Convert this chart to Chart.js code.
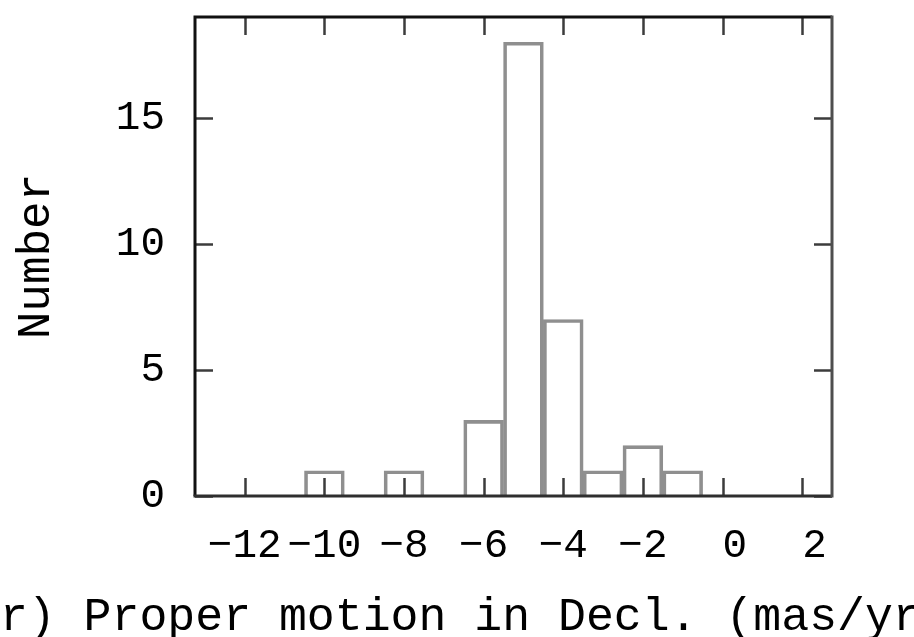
<!DOCTYPE html>
<html>
<head>
<meta charset="utf-8">
<script src="https://cdn.jsdelivr.net/npm/chart.js@4.4.1/dist/chart.umd.min.js"></script>
<style>
  html, body { margin: 0; padding: 0; background: #fff; overflow: hidden; }
  canvas { display: block; }
</style>
</head>
<body>
<canvas id="hist" width="914" height="637"></canvas>
<script>
// Histogram of proper motion in declination (bins 1 mas/yr wide, centred on integers)
const binCenters = [-10, -8, -6, -5, -4, -3, -2, -1];
const counts     = [1, 1, 3, 18, 7, 1, 2, 1];

const xTickValues = [-12, -10, -8, -6, -4, -2, 0, 2];
const yTickValues = [0, 5, 10, 15];

const xTitle = '(r) Proper motion in Decl. (mas/yr)';
const yTitle = 'Number';

const MONO = "'Liberation Mono', 'Courier New', monospace";

// negative numbers get a real minus sign, others a leading blank of the same width
function xLabel(v) { return v < 0 ? '\u2212' + Math.abs(v) : ' ' + v; }

// Box frame, inward tick marks on all four sides, and the x-axis caption
const framePlugin = {
  id: 'frame',
  afterDatasetsDraw(chart) {
    const { ctx, chartArea: a, scales: { x, y } } = chart;
    const L = 18;
    ctx.save();
    ctx.lineCap = 'butt';
    ctx.strokeStyle = '#3c3c3c';
    ctx.lineWidth = 2.5;
    ctx.beginPath();
    xTickValues.forEach(v => {
      const px = Math.round(x.getPixelForValue(v)) + 0.5;
      ctx.moveTo(px, a.bottom); ctx.lineTo(px, a.bottom - L);
      ctx.moveTo(px, a.top);    ctx.lineTo(px, a.top + L);
    });
    yTickValues.forEach(v => {
      const py = Math.round(y.getPixelForValue(v)) + 0.5;
      ctx.moveTo(a.left, py);  ctx.lineTo(a.left + L, py);
      ctx.moveTo(a.right, py); ctx.lineTo(a.right - L, py);
    });
    ctx.stroke();

    ctx.lineWidth = 3;
    // top and left edges
    ctx.strokeStyle = '#111';
    ctx.beginPath();
    ctx.moveTo(a.left, a.bottom); ctx.lineTo(a.left, a.top); ctx.lineTo(a.right, a.top);
    ctx.stroke();
    // bottom edge
    ctx.strokeStyle = '#2e2e2e';
    ctx.beginPath();
    ctx.moveTo(a.left - 1.5, a.bottom); ctx.lineTo(a.right, a.bottom);
    ctx.stroke();
    // right edge
    ctx.strokeStyle = '#4e4e4e';
    ctx.beginPath();
    ctx.moveTo(a.right, a.top - 1.5); ctx.lineTo(a.right, a.bottom + 1.5);
    ctx.stroke();
    ctx.restore();
  },
  afterDraw(chart) {
    const { ctx } = chart;
    ctx.save();
    ctx.fillStyle = '#000';
    ctx.font = '46.5px ' + MONO;
    ctx.textAlign = 'left';
    ctx.textBaseline = 'alphabetic';
    ctx.fillText(xTitle, -28, 630);
    ctx.restore();
  }
};

new Chart(document.getElementById('hist'), {
  type: 'bar',
  data: {
    datasets: [{
      data: binCenters.map((c, i) => ({ x: c, y: counts[i] })),
      backgroundColor: 'rgba(255,255,255,0)',
      borderColor: '#8f8f8f',
      borderWidth: 3,
      barPercentage: 1.0,
      categoryPercentage: 1.0
    }]
  },
  options: {
    responsive: false,
    animation: false,
    events: [],
    layout: { padding: { top: 17, right: 82, left: 0, bottom: 0 } },
    plugins: { legend: { display: false }, tooltip: { enabled: false } },
    scales: {
      x: {
        type: 'linear',
        min: -13.25,
        max: 2.75,
        offset: false,
        grid: { display: false, offset: false },
        border: { display: false },
        afterBuildTicks(scale) { scale.ticks = xTickValues.map(v => ({ value: v })); },
        afterFit(scale) { scale.height = 141; scale.paddingLeft = 0; scale.paddingRight = 0; },
        ticks: {
          autoSkip: false,
          maxRotation: 0,
          minRotation: 0,
          padding: 18,
          color: '#000',
          font: { family: MONO, size: 41 },
          callback: v => xLabel(v)
        }
      },
      y: {
        type: 'linear',
        min: 0,
        max: 19,
        grid: { display: false },
        border: { display: false },
        afterBuildTicks(scale) { scale.ticks = yTickValues.map(v => ({ value: v })); },
        afterFit(scale) { scale.width = 195; scale.paddingTop = 0; scale.paddingBottom = 0; },
        ticks: {
          padding: 22,
          color: '#000',
          font: { family: MONO, size: 41 },
          callback: v => String(v)
        },
        title: {
          display: true,
          text: yTitle,
          color: '#000',
          font: { family: MONO, size: 46 },
          padding: { top: 9, bottom: 0 }
        }
      }
    }
  },
  plugins: [framePlugin]
});
</script>
</body>
</html>
